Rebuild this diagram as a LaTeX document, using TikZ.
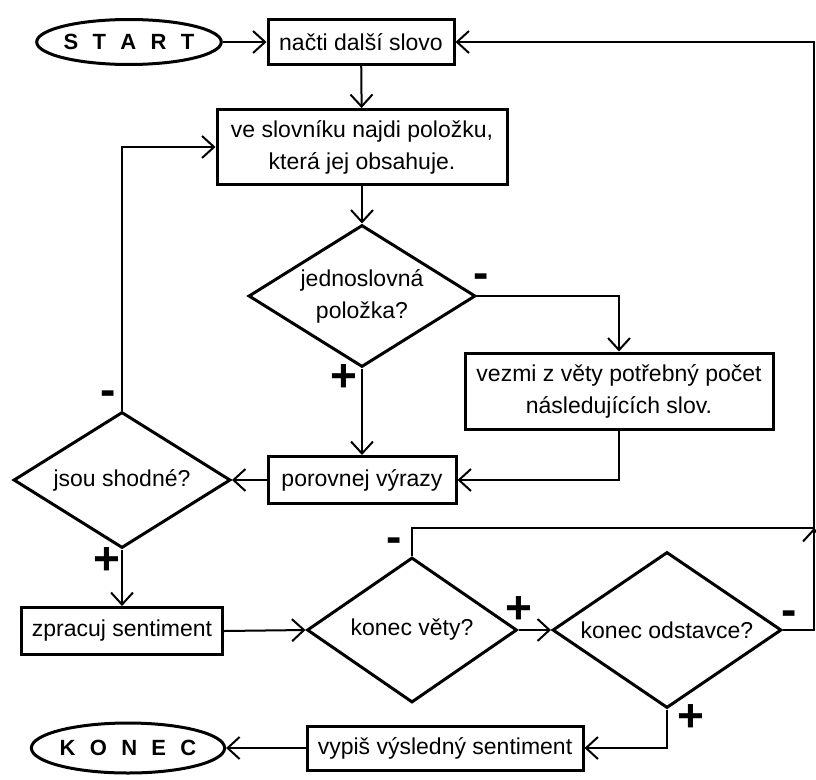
\documentclass[tikz,border=0pt]{standalone}
\usepackage{fontspec}
\setmainfont{Liberation Sans}
\usetikzlibrary{shapes.geometric,arrows.meta,calc}

\begin{document}
\begin{tikzpicture}[x=1pt,y=-1pt,line width=2pt,
  font=\fontsize{23}{32}\selectfont,
  box/.style={draw,line width=3pt,inner sep=0pt,align=center},
  decision/.style={draw,diamond,line width=3pt,inner sep=0pt,align=center,shape aspect=1.5},
  terminal/.style={draw,ellipse,line width=3pt,inner sep=0pt,font=\fontsize{22}{24}\selectfont\bfseries},
  arrow/.style={-{Straight Barb[length=12pt,width=22pt]}},
  sign/.style={font=\fontsize{46}{46}\selectfont\bfseries,inner sep=0pt}]
\useasboundingbox (0,0) rectangle (816,779);

\node[terminal,minimum width=168pt,minimum height=45pt] (start) at (129,42) {S\hspace{0.65em}T\hspace{0.65em}A\hspace{0.65em}R\hspace{0.65em}T};
\node[box,minimum width=186pt,minimum height=45pt] (read) at (361,42) {načti další slovo};
\node[box,minimum width=290pt,minimum height=75pt] (find) at (362,147) {ve slovníku najdi položku,\\která jej obsahuje.};
\node[decision,minimum width=227pt,minimum height=142pt,shape aspect=1.6] (single) at (362,296) {jednoslovná\\položka?};
\node[box,minimum width=308pt,minimum height=76pt] (take) at (619,391) {vezmi z věty potřebný počet\\následujících slov.};
\node[box,minimum width=188pt,minimum height=47pt] (compare) at (362,480) {porovnej výrazy};
\node[decision,minimum width=217pt,minimum height=136pt,shape aspect=1.6] (same) at (122,480) {jsou shodné?};
\node[box,minimum width=201pt,minimum height=47pt] (process) at (122,631) {zpracuj sentiment};
\node[decision,minimum width=210pt,minimum height=145pt,shape aspect=1.45] (sentend) at (412,630) {konec věty?};
\node[decision,minimum width=229pt,minimum height=156pt,shape aspect=1.47] (paraend) at (667,630) {konec odstavce?};
\node[box,minimum width=276pt,minimum height=44pt] (print) at (445,748) {vypiš výsledný sentiment};
\node[terminal,minimum width=170pt,minimum height=50pt] (stop) at (128,748) {K\hspace{0.65em}O\hspace{0.65em}N\hspace{0.65em}E\hspace{0.65em}C};

\coordinate (loop) at (814,42);
\coordinate (join) at (814,528);

\draw[arrow] (start.east) -- (read.west);
\draw[arrow] (read) -- (find);
\draw[arrow] (find) -- (single);
\draw[arrow] (single.east) -| (take.north);
\draw[arrow] (single.south) -- (compare.north);
\draw[arrow] (take.south) |- (compare.east);
\draw[arrow] (compare.west) -- (same.east);
\draw[arrow] (same.north) |- (find.west);
\draw[arrow] (same.south) -- (process.north);
\draw[arrow] (process.east) -- (sentend.west);
\draw[arrow] (sentend.east) -- (paraend.west);
\draw[arrow] (paraend.south) |- (print.east);
\draw[arrow] (print.west) -- (stop.east);
\draw[arrow] (paraend.east) -| (loop) -- (read.east);
\draw (sentend.north) |- (join);
\draw[arrow] ($(join)+(0,10)$) -- (join);

\node[sign] (singleno) at (481,281) {-};
\node[sign] (singleyes) at (344,378) {+};
\node[sign] (sameno) at (108,398) {-};
\node[sign] (sameyes) at (107,561) {+};
\node[sign] (sentendno) at (394,545) {-};
\node[sign] (sentendyes) at (519,610) {+};
\node[sign] (paraendno) at (789,618) {-};
\node[sign] (paraendyes) at (691,718) {+};

\end{tikzpicture}
\end{document}
